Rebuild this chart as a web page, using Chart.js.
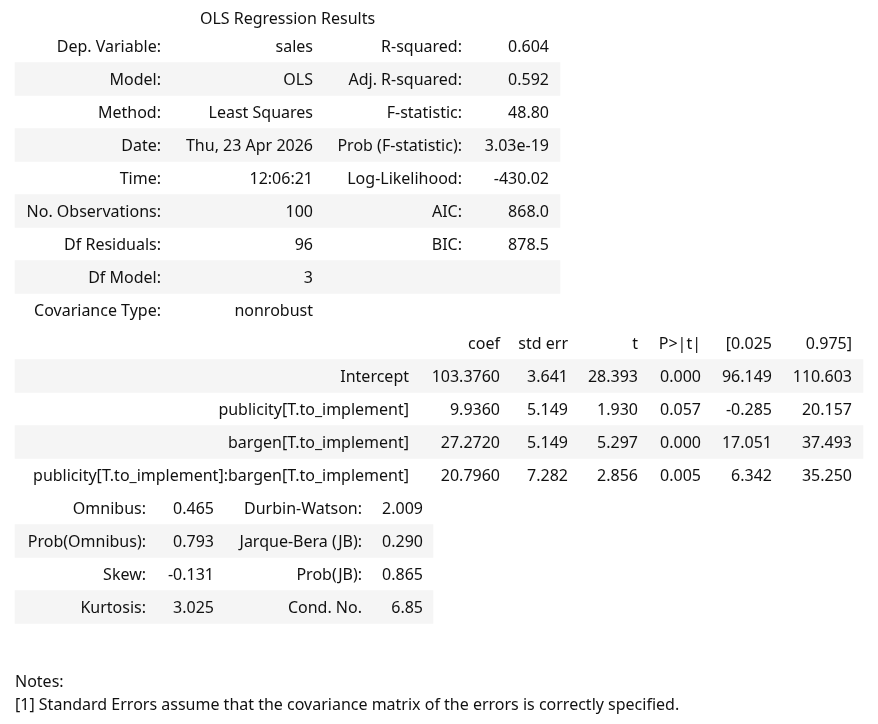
<!DOCTYPE html>
<html lang="en">
<head>
<meta charset="UTF-8">
<title>OLS Regression Results</title>
<script src="https://cdn.jsdelivr.net/npm/chart.js"></script>
<style>
    body { margin: 0; background: #fff; }
    #chart-container { width: 878px; height: 724px; }
</style>
</head>
<body>
<div id="chart-container">
    <canvas id="mycanvas"></canvas>
</div>
<script>
    var tableTitle = 'OLS Regression Results';

    var topLabelsLeft = ['Dep. Variable:', 'Model:', 'Method:', 'Date:', 'Time:',
        'No. Observations:', 'Df Residuals:', 'Df Model:', 'Covariance Type:'];
    var topValuesLeft = ['sales', 'OLS', 'Least Squares', 'Thu, 23 Apr 2026', '12:06:21',
        '100', '96', '3', 'nonrobust'];
    var topLabelsRight = ['R-squared:', 'Adj. R-squared:', 'F-statistic:', 'Prob (F-statistic):',
        'Log-Likelihood:', 'AIC:', 'BIC:', '', ''];
    var topValuesRight = ['0.604', '0.592', '48.80', '3.03e-19', '-430.02', '868.0', '878.5', '', ''];

    var coefHeaders = ['coef', 'std err', 't', 'P>|t|', '[0.025', '0.975]'];
    var terms = ['Intercept', 'publicity[T.to_implement]', 'bargen[T.to_implement]',
        'publicity[T.to_implement]:bargen[T.to_implement]'];
    var coef = [103.3760, 9.9360, 27.2720, 20.7960];
    var stdErr = [3.641, 5.149, 5.149, 7.282];
    var tValues = [28.393, 1.930, 5.297, 2.856];
    var pValues = [0.000, 0.057, 0.000, 0.005];
    var ciLow = [96.149, -0.285, 17.051, 6.342];
    var ciHigh = [110.603, 20.157, 37.493, 35.250];

    var diagLabelsLeft = ['Omnibus:', 'Prob(Omnibus):', 'Skew:', 'Kurtosis:'];
    var diagValuesLeft = ['0.465', '0.793', '-0.131', '3.025'];
    var diagLabelsRight = ['Durbin-Watson:', 'Jarque-Bera (JB):', 'Prob(JB):', 'Cond. No.'];
    var diagValuesRight = ['2.009', '0.290', '0.865', '6.85'];

    var notes = ['Notes:',
        '[1] Standard Errors assume that the covariance matrix of the errors is correctly specified.'];

    // --- layout (pixels / row units) ---
    var W = 878, H = 724;
    var ROW_H = 33, FIRST_ROW_Y = 13;
    var FONT = '16px "Noto Sans"';
    var TEXT_COLOR = '#111';
    var TEXT_DY = 1;
    var STRIPE = '#f5f5f5';
    var TABLE_LEFT = 15;

    // first row index, right edge of stripe, right edge of each column
    var topTable = { start: 1, right: 560, cols: [161, 313, 462, 549] };
    var coefTable = { start: 10, right: 863, cols: [409, 500, 568, 638, 701, 772, 852] };
    var diagTable = { start: 15, right: 433, cols: [146, 214, 362, 423] };
    var TITLE_X = 287.5, TITLE_Y = 19;
    var NOTES_Y = [682, 705];

    // build cells
    var cells = [];
    function addRow(tbl, r, values) {
        values.forEach(function (v, j) {
            if (v !== '') cells.push({ row: tbl.start + r, x: tbl.cols[j], text: v });
        });
    }
    topLabelsLeft.forEach(function (lab, i) {
        addRow(topTable, i, [lab, topValuesLeft[i], topLabelsRight[i], topValuesRight[i]]);
    });
    addRow(coefTable, 0, [''].concat(coefHeaders));
    terms.forEach(function (term, i) {
        addRow(coefTable, i + 1, [term, coef[i].toFixed(4), stdErr[i].toFixed(3), tValues[i].toFixed(3),
            pValues[i].toFixed(3), ciLow[i].toFixed(3), ciHigh[i].toFixed(3)]);
    });
    diagLabelsLeft.forEach(function (lab, i) {
        addRow(diagTable, i, [lab, diagValuesLeft[i], diagLabelsRight[i], diagValuesRight[i]]);
    });

    // striped rows -> floating bars
    var bands = [];
    function addBands(tbl, nRows) {
        for (var r = 1; r < nRows; r += 2) {
            bands.push({ x: [TABLE_LEFT, tbl.right], y: tbl.start + r });
        }
    }
    addBands(topTable, topLabelsLeft.length);
    addBands(coefTable, terms.length + 1);
    addBands(diagTable, diagLabelsLeft.length);

    var tableText = {
        id: 'tableText',
        afterDatasetsDraw: function (chart) {
            var ctx = chart.ctx, xs = chart.scales.x, ys = chart.scales.y;
            ctx.save();
            ctx.font = FONT;
            ctx.fillStyle = TEXT_COLOR;
            ctx.textBaseline = 'middle';
            ctx.textAlign = 'right';
            cells.forEach(function (c) {
                ctx.fillText(c.text, xs.getPixelForValue(c.x), ys.getPixelForValue(c.row) + TEXT_DY);
            });
            ctx.textAlign = 'center';
            ctx.fillText(tableTitle, xs.getPixelForValue(TITLE_X), TITLE_Y);
            ctx.textAlign = 'left';
            notes.forEach(function (n, i) {
                ctx.fillText(n, xs.getPixelForValue(TABLE_LEFT), NOTES_Y[i]);
            });
            ctx.restore();
        }
    };

    var yMin = -FIRST_ROW_Y / ROW_H;
    var chart = new Chart(document.getElementById('mycanvas'), {
        type: 'bar',
        data: {
            datasets: [{
                data: bands,
                backgroundColor: STRIPE,
                borderWidth: 0,
                barThickness: ROW_H
            }]
        },
        options: {
            indexAxis: 'y',
            responsive: true,
            maintainAspectRatio: false,
            animation: false,
            layout: { padding: 0 },
            plugins: { legend: { display: false }, tooltip: { enabled: false } },
            scales: {
                x: { type: 'linear', min: 0, max: W, display: false },
                y: {
                    type: 'linear', min: yMin, max: yMin + H / ROW_H, reverse: true,
                    offset: false, grace: 0, display: false
                }
            }
        },
        plugins: [tableText]
    });
</script>
</body>
</html>
